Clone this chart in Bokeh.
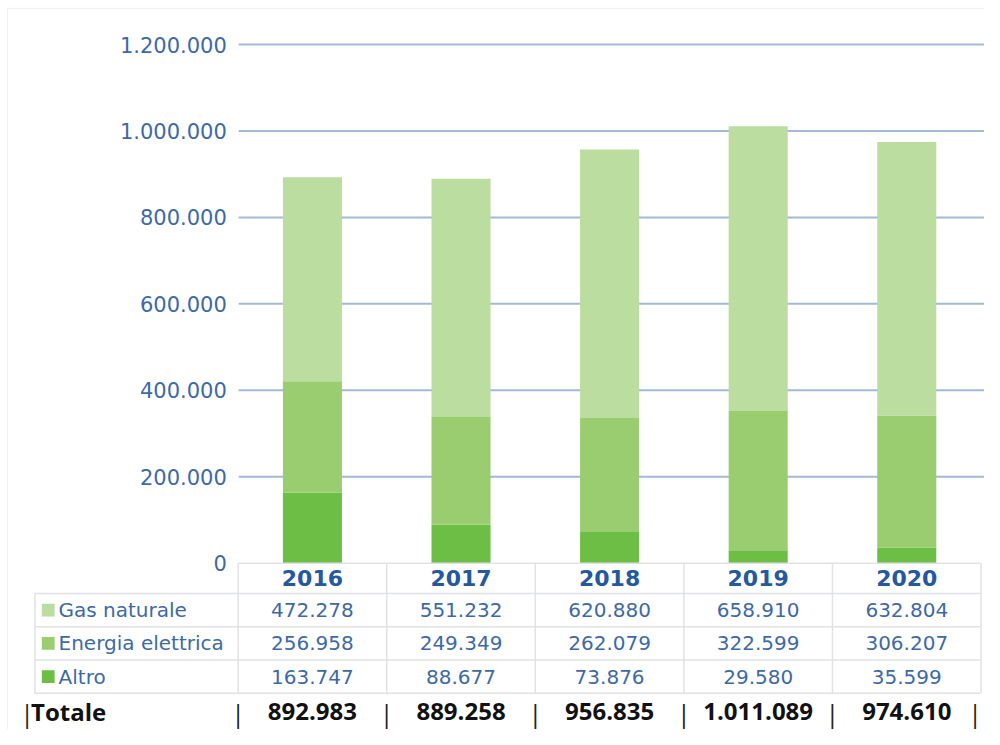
from bokeh.plotting import figure
from bokeh.models import Range1d, ColumnDataSource
from bokeh.core.properties import value
from bokeh.embed import file_html
from bokeh.resources import INLINE

# ---- data ----
years = ["2016", "2017", "2018", "2019", "2020"]
gas_naturale = [472278, 551232, 620880, 658910, 632804]
energia_elettrica = [256958, 249349, 262079, 322599, 306207]
altro = [163747, 88677, 73876, 29580, 35599]
totale = [892983, 889258, 956835, 1011089, 974610]
series_names = ["Gas naturale", "Energia elettrica", "Altro"]
y_ticks = [0, 200000, 400000, 600000, 800000, 1000000, 1200000]

colors = {"Gas naturale": "#bbdd9f", "Energia elettrica": "#9acd6f", "Altro": "#6cbf44"}


def fmt(v):
    return f"{v:,}".replace(",", ".")


# ---- layout (reference pixel geometry, reference canvas 1000 x 745) ----
W, H = 984, 729
REF_W, REF_H = 1000.0, 745.0
ZERO_PX, MAX_PX = 575.0, 45.0
scale = (ZERO_PX - MAX_PX) / 1200000.0
ys = -(REF_H - ZERO_PX) / scale
ye = 1200000 + MAX_PX / scale
COL_W = 151.0
X0_PX = 317.0
xs = -X0_PX / COL_W
xe = (REF_W - X0_PX) / COL_W

p = figure(width=W, height=H, x_range=Range1d(xs, xe), y_range=Range1d(ys, ye),
           x_axis_location=None, y_axis_location=None, min_border=0,
           toolbar_location=None, output_backend="svg", outline_line_color=None,
           background_fill_color="white", border_fill_color="white")
p.grid.visible = False
p.extra_x_ranges = {"px": Range1d(0, REF_W)}
p.extra_y_ranges = {"py": Range1d(REF_H, 0)}

FONT = value("DejaVu Sans")
BLUE = "#3d69a8"
HEAD_BLUE = "#24589f"
GRID = "#a3b9d8"
BORDER = "#e0e2e5"

# faint frame of the original image
p.segment(x0=[7, 7], x1=[7, REF_W], y0=[8, 8], y1=[REF_H, 8],
          x_range_name="px", y_range_name="py", line_color="#f0f0f0", line_width=1)

# gridlines
gl = [t for t in y_ticks if t > 0]
p.segment(x0=[242] * len(gl), x1=[REF_W] * len(gl), y0=gl, y1=gl,
          x_range_name="px", line_color=GRID, line_width=2)

# y tick labels
p.text(x=[230] * len(y_ticks), y=y_ticks, text=[fmt(t) for t in y_ticks],
       x_range_name="px", text_align="right", text_baseline="middle",
       text_font=FONT, text_font_size="21px", text_color=BLUE)

# stacked bars
idx = list(range(len(years)))
src = ColumnDataSource(dict(x=idx, altro=altro, energia=energia_elettrica, gas=gas_naturale))
p.vbar_stack(["altro", "energia", "gas"], x="x", width=60 / COL_W, source=src,
             color=[colors["Altro"], colors["Energia elettrica"], colors["Gas naturale"]],
             line_color=None)

# table borders
bounds = [i - 0.5 for i in idx] + [idx[-1] + 0.5]
p.segment(x0=bounds, x1=bounds, y0=[575] * len(bounds), y1=[708] * len(bounds),
          y_range_name="py", line_color=BORDER, line_width=1.5)
p.segment(x0=[35], x1=[35], y0=[606], y1=[708], x_range_name="px", y_range_name="py",
          line_color=BORDER, line_width=1.5)
p.segment(x0=[242, 35, 35, 35, 35], x1=[996] * 5, y0=[575, 606, 640, 674, 708],
          y1=[575, 606, 640, 674, 708], x_range_name="px", y_range_name="py",
          line_color=BORDER, line_width=1.5)

# header years
p.text(x=idx, y=[590] * len(idx), text=years, y_range_name="py",
       text_align="center", text_baseline="middle", text_font=FONT,
       text_font_size="22px", text_font_style="bold", text_color=HEAD_BLUE)

# series rows
row_y = [623, 657, 691]
row_vals = [gas_naturale, energia_elettrica, altro]
for name, yy, vals in zip(series_names, row_y, row_vals):
    p.rect(x=[48.5], y=[yy], width=13, height=13, x_range_name="px", y_range_name="py",
           fill_color=colors[name], line_color=None)
    p.text(x=[59], y=[yy], text=[name], x_range_name="px", y_range_name="py",
           text_align="left", text_baseline="middle", text_font=FONT,
           text_font_size="20px", text_color=BLUE)
    p.text(x=idx, y=[yy] * len(idx), text=[fmt(v) for v in vals], y_range_name="py",
           text_align="center", text_baseline="middle", text_font=FONT,
           text_font_size="20px", text_color=BLUE)

# Totale row
TFONT = value("Open Sans")
pipe_x = bounds[:-1] + [idx[-1] + 0.46]
p.text(x=[20], y=[728], text=["|"], x_range_name="px", y_range_name="py",
       text_align="left", text_baseline="middle", text_font=TFONT,
       text_font_size="25px", text_color="#222222")
p.text(x=[31], y=[727], text=["Totale"], x_range_name="px", y_range_name="py",
       text_align="left", text_baseline="middle", text_font=TFONT,
       text_font_size="24px", text_font_style="bold", text_color="#111111")
p.text(x=pipe_x, y=[728] * len(pipe_x), text=["|"] * len(pipe_x), y_range_name="py",
       text_align="center", text_baseline="middle", text_font=TFONT,
       text_font_size="25px", text_color="#222222")
p.text(x=idx, y=[727] * len(idx), text=[fmt(v) for v in totale], y_range_name="py",
       text_align="center", text_baseline="middle", text_font=TFONT,
       text_font_size="24px", text_font_style="bold", text_color="#111111")

open("out.html", "w").write(file_html(p, INLINE))
